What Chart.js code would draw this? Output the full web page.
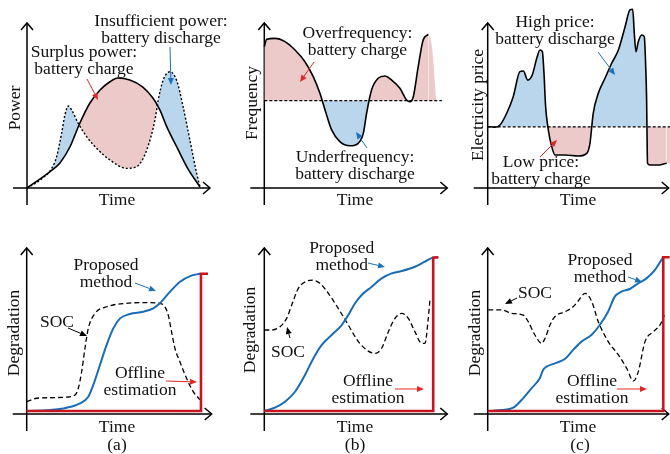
<!DOCTYPE html>
<html>
<head>
<meta charset="utf-8">
<script src="https://cdn.jsdelivr.net/npm/chart.js@4.4.1/dist/chart.umd.min.js"></script>
<style>
html,body{margin:0;padding:0;background:#fff;width:670px;height:454px;overflow:hidden;position:relative;}
canvas{position:absolute;left:-20px;top:-20px;}
</style>
</head>
<body>
<canvas id="ta" width="720" height="500"></canvas>
<canvas id="tb" width="720" height="500"></canvas>
<canvas id="tc" width="720" height="500"></canvas>
<canvas id="ba" width="720" height="500"></canvas>
<canvas id="bb" width="720" height="500"></canvas>
<canvas id="bc" width="720" height="500"></canvas>
<script>
// ---------------- DATA (time 0-100, value 0-100 of axis length) ----------------
// (a) top: generation (solid) and load (dotted)
const genPower = [[0,0],[12.6,9.9],[18,15.2],[23.5,25],[28.9,39.4],[34.4,51.5],[39.9,59.4],[45.3,64.4],[49.7,66.7],[56.2,65.4],[63.3,61.2],[68.8,54.5],[72.6,47.3],[76.4,37],[81.9,24.8],[87.4,12.7],[94.5,0.6]];
const loadPower = [[0,0],[7.1,4.8],[13.5,11.9],[16.2,19],[18.9,33.1],[20.7,44.2],[22.6,49.7],[24.4,47.3],[28,39.2],[32.6,31.1],[38.1,24],[45.3,17],[54.4,11.9],[59.9,12.9],[65.4,23],[69.9,41.2],[71.7,53.3],[74.4,65.4],[78.1,70.5],[81.7,65.4],[85.3,49.3],[89,29.1],[92.7,8.9],[94.5,0.8]];
// (b) top: frequency
const freqNominal = 52.9;
const frequency = [[0,85.6],[1.3,90.1],[5.8,90.7],[11.3,88.7],[16.8,83.6],[22.2,76.5],[26.8,67.4],[30.4,57.4],[33.2,47.3],[36.8,35.2],[41.3,28.1],[46.8,25.6],[51.3,27.1],[54.1,33.1],[55.9,45.3],[58.6,59.4],[62.2,66.5],[65.9,67.9],[69.6,65.4],[74.1,60.4],[77.8,53.3],[79.6,52.3],[81.4,55.3],[84.1,73.5],[86.8,89.7],[89.6,93.1]];
const frequencyTail = [[89.6,93.1],[90.8,90.5],[91.8,83.6],[92.9,68.5],[93.7,56],[94,53]];
const freqLineEnd = 97;
// (c) top: electricity price
const priceMean = 37.1;
const price = [[0,37.1],[1.3,37.1],[4,36.8],[6.8,38.2],[10.5,45.3],[14.1,55.3],[17.8,70.5],[19.7,70.9],[22.1,65.4],[24.6,68.5],[27.1,78.6],[28.9,83.6],[30.2,82.6],[31.1,69.5],[32,49.3],[33.5,35.1],[35.4,25],[37.2,20],[42.7,20],[50.1,19.4],[54.7,21],[56.5,27.1],[58.3,45.3],[61.1,57.4],[64.8,66.5],[68.5,75.6],[72.2,83.6],[75.9,97.7],[78.6,107.9],[80.1,108.3],[81,93.7],[81.9,82.6],[83.2,88.7],[85.1,92.7],[86.5,91.7],[87.3,73.5],[87.8,53.3],[88,35.1],[88.3,15],[89.7,13.9],[94.3,13.9],[97,14.5],[98.9,15]];
const priceTail = [[98.9,15],[101,15]];
const priceLineEnd = 101;
// bottom: degradation curves
const proposedA = [[0,1.8],[12.6,2.4],[21.6,3.8],[28.8,6.4],[33.3,10.4],[36,17.5],[39.6,29.5],[43.2,41.6],[46.8,51.6],[50.5,57.6],[55.8,60.2],[63,61.6],[68.4,63.7],[72,66.7],[77.5,73.7],[82.9,79.7],[88.3,83.1],[93.7,84.5]];
const socA = [[0,7.4],[5.4,9.5],[12.6,9.8],[21.6,10.2],[26.1,11.4],[27.9,15.5],[29.7,25.5],[31.5,39.6],[33.3,51.6],[36.9,60.6],[43.2,64.6],[54,66.7],[64.9,67.1],[72,66.7],[74.7,64.6],[76.5,59.6],[78.3,49.6],[80.1,39.6],[82.8,31.5],[86.4,21.5],[90,13.5],[93.7,8.6]];
const offlineA = [[0,1.8],[94.2,1.8],[94.2,84.5],[98,84.5]];
const proposedB = [[0,1.8],[5.8,3.8],[11.3,7.4],[16.8,13.4],[22.2,23.5],[26.8,33.5],[31.4,41.6],[36.8,47.6],[42.3,53.6],[45.9,59.6],[49.6,66.7],[53.2,71.7],[58.7,76.7],[64.1,81.7],[69.6,84.7],[75.1,86.1],[82.3,88.7],[87.8,91.8],[92.3,94.2],[95.1,94.4]];
const socB = [[0,50.6],[4,50.6],[8.6,52.6],[12.2,57.6],[15,65.7],[18.6,75.7],[23.2,80.1],[26.2,80.7],[30.4,78.7],[35,72.7],[40.4,63.6],[45.9,53.6],[51.4,43.6],[56.8,37.9],[60.5,36.5],[64.1,39.6],[67.8,49.6],[71.4,57.6],[75.1,60.6],[78.7,57.6],[82.3,49.6],[86,42.6],[87.8,42.6],[89.6,57.6],[90.5,68.7]];
const offlineB = [[0,1.8],[92.3,1.8],[92.3,94.2],[95.1,94.4]];
const proposedC = [[0.7,1.8],[7.7,2.4],[14.1,3.8],[18.7,8.4],[24.2,15.5],[28.8,21.5],[30.6,26.5],[32.5,28.5],[37.1,30.5],[42.6,33.1],[47.2,38.6],[51.8,43.6],[57.3,47.6],[61.9,53.6],[66.5,61.6],[70.2,70.7],[73.9,73.7],[78.5,75.3],[83.1,78.7],[87.7,81.7],[92.3,86.7],[96.9,94.4]];
const socC = [[0.3,62.7],[7.7,62.7],[13.3,60.6],[19.7,59.6],[22.4,55.6],[26.1,47.6],[29.8,42.6],[31.7,45.6],[34.4,53.6],[37.1,58.6],[42.7,61.6],[47.2,64.6],[50,68.1],[53.8,72.7],[57.5,67.7],[61.1,55.6],[66.6,43.6],[72.2,35.6],[76.8,27.5],[80.5,19.9],[83.2,25.5],[86.9,43.6],[91.5,49.6],[95.2,53.6],[97.6,59.6]];
const offlineC = [[0,1.8],[97,1.8],[97,94.4],[100.5,94.4]];

// ---------------- STYLE / LAYOUT ----------------
const CW = 720, CH = 500, OFF = 20;
const FONT = '17.5px "Liberation Serif", "Times New Roman", serif';
const LH = 17;
const PINK = '#edcaca', BLUE = '#bad6ec';
const RED = '#c8141e', LBLUE = '#1a6db4', ARED = '#e02828', ABLUE = '#1f70b5';
const XR = [-5, 105], YR = [-8, 115];

const pts = a => a.map(p => ({x: p[0], y: p[1]}));

function makePlugin(panel) {
  return {
    id: 'deco',
    beforeDatasetsDraw(chart) {
      const ctx = chart.ctx, xs = chart.scales.x, ys = chart.scales.y;
      const x0 = xs.getPixelForValue(0), y0 = ys.getPixelForValue(0);
      const xt = xs.getPixelForValue(100), yt = ys.getPixelForValue(100);
      ctx.save();
      ctx.strokeStyle = '#000'; ctx.lineWidth = 1.5; ctx.lineCap = 'butt';
      ctx.beginPath();
      ctx.moveTo(x0 - 14, y0); ctx.lineTo(xt, y0);
      ctx.moveTo(x0, y0 + 17); ctx.lineTo(x0, yt);
      ctx.stroke();
      ctx.beginPath();
      ctx.moveTo(xt - 7, y0 - 6); ctx.lineTo(xt, y0); ctx.lineTo(xt - 7, y0 + 6);
      ctx.moveTo(x0 - 6, yt + 7); ctx.lineTo(x0, yt); ctx.lineTo(x0 + 6, yt + 7);
      ctx.stroke();
      ctx.restore();
    },
    afterDatasetsDraw(chart) {
      const ctx = chart.ctx;
      ctx.save();
      ctx.font = FONT; ctx.fillStyle = '#111'; ctx.textAlign = 'center'; ctx.textBaseline = 'middle';
      (panel.texts || []).forEach(t => {
        t.lines.forEach((s, i) => ctx.fillText(s, t.x + OFF, t.y + OFF + i * LH));
      });
      if (panel.ytitle) {
        ctx.save();
        ctx.translate(panel.ytitle.x + OFF, panel.ytitle.y + OFF);
        ctx.rotate(-Math.PI / 2);
        ctx.fillText(panel.ytitle.text, 0, 0);
        ctx.restore();
      }
      (panel.arrows || []).forEach(a => {
        const x1 = a.from[0] + OFF, y1 = a.from[1] + OFF, x2 = a.to[0] + OFF, y2 = a.to[1] + OFF;
        const ang = Math.atan2(y2 - y1, x2 - x1), L = 7, Wd = 3;
        ctx.strokeStyle = a.c; ctx.fillStyle = a.c; ctx.lineWidth = 1;
        ctx.beginPath(); ctx.moveTo(x1, y1);
        ctx.lineTo(x2 - L * Math.cos(ang), y2 - L * Math.sin(ang)); ctx.stroke();
        ctx.beginPath(); ctx.moveTo(x2, y2);
        ctx.lineTo(x2 - L * Math.cos(ang) - Wd * Math.sin(ang), y2 - L * Math.sin(ang) + Wd * Math.cos(ang));
        ctx.lineTo(x2 - L * Math.cos(ang) + Wd * Math.sin(ang), y2 - L * Math.sin(ang) - Wd * Math.cos(ang));
        ctx.closePath(); ctx.fill();
      });
      ctx.restore();
    }
  };
}

function makeChart(id, panel, datasets) {
  const left = OFF + panel.ox + XR[0] / 100 * panel.W;
  const right = OFF + panel.ox + XR[1] / 100 * panel.W;
  const top = OFF + panel.oy - YR[1] / 100 * panel.H;
  const bottom = OFF + panel.oy - YR[0] / 100 * panel.H;
  return new Chart(document.getElementById(id), {
    type: 'line',
    data: {datasets},
    options: {
      responsive: false, animation: false, devicePixelRatio: 1, events: [],
      layout: {autoPadding: false, padding: {left, top, right: CW - right, bottom: CH - bottom}},
      plugins: {legend: {display: false}, tooltip: {enabled: false}, title: {display: false}},
      elements: {point: {radius: 0}, line: {cubicInterpolationMode: 'monotone'}},
      scales: {
        x: {type: 'linear', min: XR[0], max: XR[1], display: false},
        y: {type: 'linear', min: YR[0], max: YR[1], display: false}
      }
    },
    plugins: [makePlugin(panel)]
  });
}

const line = (data, o) => Object.assign({data: pts(data), borderColor: '#000', borderWidth: 1.5, fill: false, pointRadius: 0}, o);

// (a) top
makeChart('ta', {ox: 27, oy: 188, W: 183, H: 165,
  texts: [{x: 161, y: 21, lines: ['Insufficient power:', 'battery discharge']},
          {x: 84, y: 52, lines: ['Surplus power:', 'battery charge']},
          {x: 117, y: 200, lines: ['Time']}],
  ytitle: {x: 15, y: 108, text: 'Power'},
  arrows: [{from: [87, 79], to: [98, 100], c: ARED}, {from: [170, 47], to: [171, 85], c: ABLUE}]
}, [
  line(genPower, {borderWidth: 1.6}),
  line(loadPower, {borderWidth: 1.4, borderDash: [2, 2], fill: {target: 0, above: BLUE, below: PINK}})
]);

// (b) top
makeChart('tb', {ox: 264.3, oy: 188, W: 183, H: 165,
  texts: [{x: 357.5, y: 33, lines: ['Overfrequency:', 'battery charge']},
          {x: 355, y: 157, lines: ['Underfrequency:', 'battery discharge']},
          {x: 355, y: 200, lines: ['Time']}],
  ytitle: {x: 252, y: 103, text: 'Frequency'},
  arrows: [{from: [314, 62], to: [300, 82], c: ARED}, {from: [367, 148], to: [356, 132], c: ABLUE}]
}, [
  line([[0, freqNominal], [freqLineEnd, freqNominal]], {borderWidth: 1.2, borderDash: [3, 2], cubicInterpolationMode: 'default', tension: 0}),
  line(frequency, {borderWidth: 1.6, fill: {target: {value: freqNominal}, above: PINK, below: BLUE}}),
  line(frequencyTail, {borderWidth: 0, borderColor: 'rgba(0,0,0,0)', fill: {target: {value: freqNominal}, above: PINK, below: BLUE}})
]);

// (c) top
makeChart('tc', {ox: 487.7, oy: 188, W: 181, H: 165,
  texts: [{x: 555, y: 22, lines: ['High price:', 'battery discharge']},
          {x: 541, y: 162, lines: ['Low price:', 'battery charge']},
          {x: 578, y: 200, lines: ['Time']}],
  ytitle: {x: 478, y: 105, text: 'Electricity price'},
  arrows: [{from: [598, 52], to: [615, 75], c: ABLUE}, {from: [540, 157], to: [557, 140], c: ARED}]
}, [
  line([[0, priceMean], [priceLineEnd, priceMean]], {borderWidth: 1.2, borderDash: [3, 2], cubicInterpolationMode: 'default', tension: 0}),
  line(price, {borderWidth: 1.6, fill: {target: {value: priceMean}, above: BLUE, below: PINK}}),
  line(priceTail, {borderWidth: 0, borderColor: 'rgba(0,0,0,0)', fill: {target: {value: priceMean}, above: BLUE, below: PINK}})
]);

// bottom panels
function degr(id, geo, texts, ytitle, arrows, proposed, soc, offline) {
  makeChart(id, Object.assign({texts, ytitle, arrows}, geo), [
    line(offline, {borderColor: RED, borderWidth: 2.6, cubicInterpolationMode: 'default', tension: 0}),
    line(proposed, {borderColor: LBLUE, borderWidth: 2}),
    line(soc, {borderWidth: 1.3, borderDash: [5, 3]})
  ]);
}

degr('ba', {ox: 26.7, oy: 414, W: 185, H: 166},
  [{x: 106, y: 265, lines: ['Proposed', 'method']}, {x: 57, y: 322, lines: ['SOC']},
   {x: 140, y: 373, lines: ['Offline', 'estimation']}, {x: 117, y: 427, lines: ['Time']}, {x: 117, y: 445, lines: ['(a)']}],
  {x: 14, y: 333, text: 'Degradation'},
  [{from: [135, 283], to: [156, 291], c: ABLUE}, {from: [68, 328], to: [87, 336], c: '#000'}, {from: [166, 381], to: [197, 382], c: ARED}],
  proposedA, socA, offlineA);

degr('bb', {ox: 264.3, oy: 414, W: 183, H: 166},
  [{x: 341.7, y: 248, lines: ['Proposed', 'method']}, {x: 288, y: 352, lines: ['SOC']},
   {x: 368, y: 381, lines: ['Offline', 'estimation']}, {x: 355, y: 427, lines: ['Time']}, {x: 355, y: 445, lines: ['(b)']}],
  {x: 250, y: 330, text: 'Degradation'},
  [{from: [368, 263], to: [385, 267], c: ABLUE}, {from: [290, 338], to: [287, 327], c: '#000'}, {from: [395, 389], to: [424, 389], c: ARED}],
  proposedB, socB, offlineB);

degr('bc', {ox: 487.7, oy: 414, W: 181, H: 166},
  [{x: 600, y: 260, lines: ['Proposed', 'method']}, {x: 535, y: 293, lines: ['SOC']},
   {x: 592, y: 381, lines: ['Offline', 'estimation']}, {x: 578, y: 427, lines: ['Time']}, {x: 580, y: 445, lines: ['(c)']}],
  {x: 475, y: 333, text: 'Degradation'},
  [{from: [517, 298], to: [505, 304], c: '#000'}, {from: [628, 277], to: [642, 282], c: ABLUE}, {from: [617, 389], to: [647, 389], c: ARED}],
  proposedC, socC, offlineC);
</script>
</body>
</html>
